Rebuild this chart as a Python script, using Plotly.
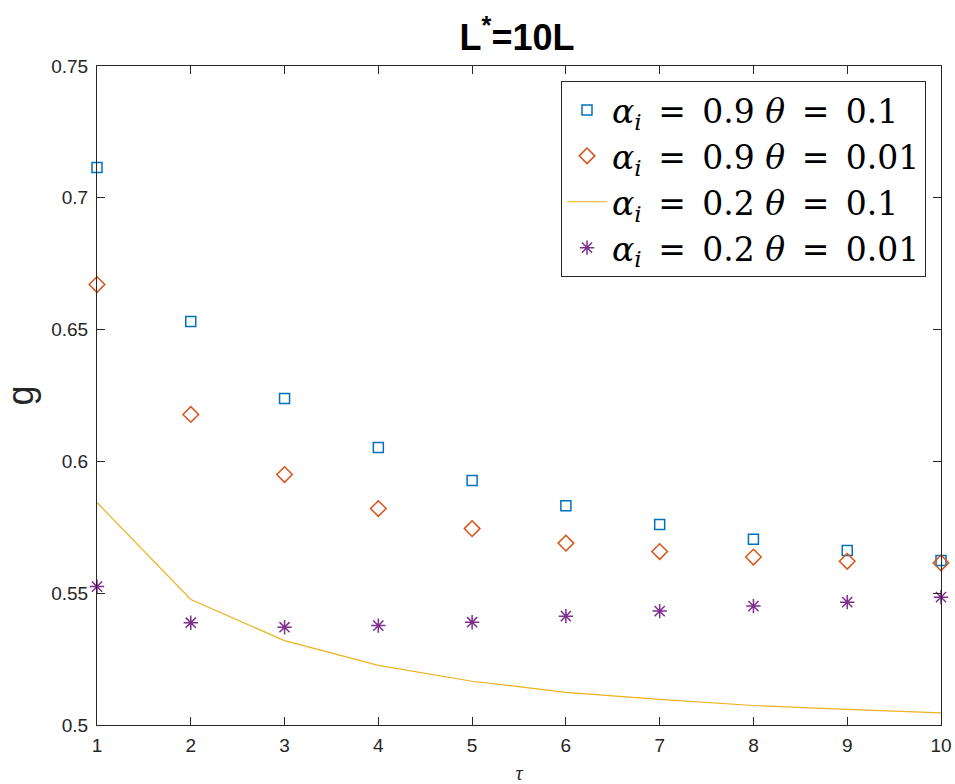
import plotly.graph_objects as go

tau = [1, 2, 3, 4, 5, 6, 7, 8, 9, 10]
g_a09_t01 = [0.7115, 0.6531, 0.6239, 0.6053, 0.5928, 0.5832, 0.5761, 0.5705, 0.5662, 0.5624]
g_a09_t001 = [0.6671, 0.6178, 0.5950, 0.5821, 0.5745, 0.5690, 0.5658, 0.5637, 0.5621, 0.5615]
g_a02_t01 = [0.5844, 0.5476, 0.5320, 0.5226, 0.5166, 0.5124, 0.5097, 0.5074, 0.5059, 0.5046]
g_a02_t001 = [0.5525, 0.5388, 0.5371, 0.5377, 0.5390, 0.5413, 0.5432, 0.5451, 0.5466, 0.5485]

E = "\u2002=\u2002"
names = [
    f"<i>α</i><sub><i>i</i></sub>{E}0.9 <i>θ</i>{E}0.1",
    f"<i>α</i><sub><i>i</i></sub>{E}0.9 <i>θ</i>{E}0.01",
    f"<i>α</i><sub><i>i</i></sub>{E}0.2 <i>θ</i>{E}0.1",
    f"<i>α</i><sub><i>i</i></sub>{E}0.2 <i>θ</i>{E}0.01",
]
colors = ["#0072BD", "#D95319", "#EDB120", "#7E2F8E"]
ytick_vals = [0.5, 0.55, 0.6, 0.65, 0.7, 0.75]
ytick_text = ["0.5", "0.55", "0.6", "0.65", "0.7", "0.75"]

fig = go.Figure()
fig.add_trace(go.Scatter(x=tau, y=g_a09_t01, mode="markers", name=names[0], cliponaxis=False,
                         marker=dict(symbol="square-open", size=10, color=colors[0], line=dict(width=1.5))))
fig.add_trace(go.Scatter(x=tau, y=g_a09_t001, mode="markers", name=names[1], cliponaxis=False,
                         marker=dict(symbol="diamond-open", size=12, color=colors[1], line=dict(width=1.5))))
fig.add_trace(go.Scatter(x=tau, y=g_a02_t01, mode="lines", name=names[2],
                         line=dict(color=colors[2], width=1.2)))
fig.add_trace(go.Scatter(x=tau, y=g_a02_t001, mode="markers", name=names[3], cliponaxis=False,
                         marker=dict(symbol="asterisk-open", size=12, color=colors[3], line=dict(width=1.5, color=colors[3]))))

axis_common = dict(showline=True, linecolor="#262626", linewidth=1, mirror="ticks", ticks="inside",
                   ticklen=8, tickcolor="#262626", showgrid=False, zeroline=False, automargin=False,
                   tickfont=dict(family="Liberation Sans, Arial", size=19, color="#262626"))

W, H = 955, 784
fig.update_layout(
    width=W, height=H,
    paper_bgcolor="white", plot_bgcolor="white",
    margin=dict(l=97, r=14, t=66, b=59),
    title=dict(text="<b>L<sup>*</sup>=10L</b>", x=517 / W, xanchor="center",
               y=1 - 37 / H, yanchor="middle",
               font=dict(family="Liberation Sans, Arial", size=36, color="black")),
    xaxis=dict(range=[1, 10], tickvals=tau, ticklabelstandoff=3,
               title=dict(text="<i>τ</i>", standoff=15,
                          font=dict(family="Liberation Serif, serif", size=20, color="#262626")),
               **axis_common),
    yaxis=dict(range=[0.5, 0.75], tickvals=ytick_vals, ticktext=ytick_text, ticklabelstandoff=4,
               title=dict(text="g", standoff=11,
                          font=dict(family="Liberation Sans, Arial", size=36, color="#262626")),
               **axis_common),
    legend=dict(x=(926 - 97) / 844, xanchor="right", y=1 - (81 - 66) / 659, yanchor="top",
                bordercolor="#262626", borderwidth=1,
                bgcolor="white", font=dict(family="DejaVu Serif, serif", size=33, color="black"),
                tracegroupgap=0, itemwidth=40),
    showlegend=True,
)

# remove the default 8px page margin so the figure fills the window exactly
fig.write_html("out.html", config={"displayModeBar": False},
               post_script="document.body.style.margin='0';document.body.style.overflow='hidden';")
